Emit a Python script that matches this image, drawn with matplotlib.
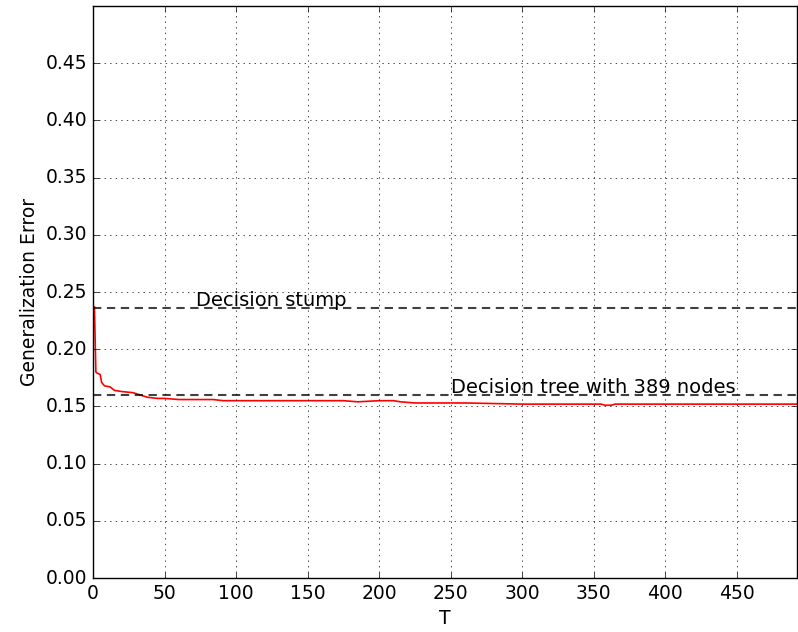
import matplotlib
matplotlib.use("Agg")
import matplotlib.pyplot as plt

# rough reading of the AdaBoost error curve
T = [1, 2, 3, 5, 6, 8, 12, 15, 20, 28, 33, 38, 45, 50, 60, 84, 91, 120, 150, 175, 185, 200,
     210, 215, 225, 260, 300, 330, 355, 358, 362, 365, 400, 450, 492]
err = [0.237, 0.180, 0.179, 0.178, 0.171, 0.168, 0.167, 0.164, 0.163, 0.162, 0.160, 0.158,
       0.157, 0.157, 0.156, 0.156, 0.155, 0.155, 0.155, 0.155, 0.154, 0.155,
       0.155, 0.154, 0.153, 0.153, 0.152, 0.152, 0.152, 0.151, 0.151, 0.152, 0.152, 0.152, 0.152]

stump_err = 0.236
tree_err = 0.160

plt.style.use('classic')
plt.rcParams['font.size'] = 13.5
fig, ax = plt.subplots(figsize=(7.98, 6.32), dpi=100)
fig.patch.set_facecolor('white')

ax.plot(T, err, color='red', lw=1.2)
ax.axhline(stump_err, color='k', ls='--', lw=1.5, alpha=0.75, dashes=(6, 4))
ax.axhline(tree_err, color='k', ls='--', lw=1.5, alpha=0.75, dashes=(6, 4))
ax.text(72, stump_err + 0.002, 'Decision stump', fontsize=14)
ax.text(250, tree_err + 0.002, 'Decision tree with 389 nodes', fontsize=14)

ax.set_xlim(0, 492)
ax.set_ylim(0, 0.5)
ax.set_xticks(range(0, 451, 50))
ax.set_yticks([0.05 * i for i in range(10)])
ax.grid(True)
ax.set_xlabel('T')
ax.set_ylabel('Generalization Error')

fig.subplots_adjust(left=93/798, right=797/798, top=1-6/632, bottom=1-578/632)
fig.savefig('out.png', dpi=100, facecolor='white')
